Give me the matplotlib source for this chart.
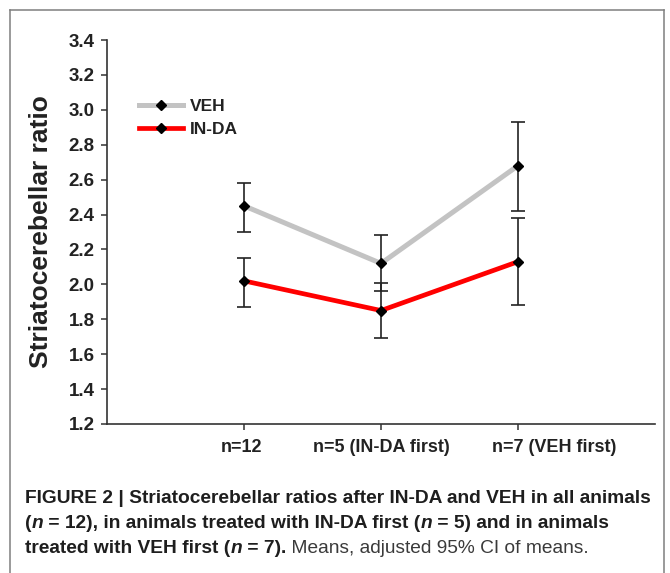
import matplotlib
matplotlib.use('Agg')
import matplotlib.pyplot as plt
from matplotlib.lines import Line2D
from matplotlib import font_manager

# ── Data ──────────────────────────────────────────────────
groups = ['n=12', 'n=5 (IN-DA first)', 'n=7 (VEH first)']
veh_mean = [2.45, 2.12, 2.68]
veh_low = [2.30, 1.96, 2.42]
veh_high = [2.58, 2.28, 2.93]
inda_mean = [2.02, 1.85, 2.13]
inda_low = [1.87, 1.69, 1.88]
inda_high = [2.15, 2.01, 2.38]
y_ticks = [1.2, 1.4, 1.6, 1.8, 2.0, 2.2, 2.4, 2.6, 2.8, 3.0, 3.2, 3.4]

names = {f.name for f in font_manager.fontManager.ttflist}
FONT = 'Liberation Sans' if 'Liberation Sans' in names else 'DejaVu Sans'
NARROW = 'Liberation Sans Narrow' if 'Liberation Sans Narrow' in names else FONT
plt.rcParams['font.family'] = FONT

fig = plt.figure(figsize=(6.7, 5.73), dpi=100)
W, H = 670, 573

# frame around the panel
frame_c = '#7f7f7f'
fig.add_artist(Line2D([10 / W, 10 / W], [0, 1 - 10 / H], color=frame_c, lw=1.1))
fig.add_artist(Line2D([10 / W, 664 / W], [1 - 10 / H, 1 - 10 / H], color=frame_c, lw=1.1))
fig.add_artist(Line2D([664 / W, 664 / W], [0, 1 - 10 / H], color=frame_c, lw=1.1))

ax = fig.add_axes([107 / W, 1 - 424 / H, (655 - 107) / W, (424 - 40) / H])
x = [1, 2, 3]


def err(mean, low, high):
    return [[m - l for m, l in zip(mean, low)], [h - m for m, h in zip(mean, high)]]


ax.errorbar(x, veh_mean, yerr=err(veh_mean, veh_low, veh_high), fmt='none',
            ecolor='#222222', elinewidth=1.2, capsize=4.7, capthick=1.2, zorder=2)
ax.errorbar(x, inda_mean, yerr=err(inda_mean, inda_low, inda_high), fmt='none',
            ecolor='#222222', elinewidth=1.2, capsize=4.7, capthick=1.2, zorder=2)
ax.plot(x, veh_mean, color='#c3c3c3', lw=3.6, marker='D', markersize=5.5,
        markerfacecolor='black', markeredgecolor='black', label='VEH', zorder=3)
ax.plot(x, inda_mean, color='#ff0000', lw=3.4, marker='D', markersize=5.5,
        markerfacecolor='black', markeredgecolor='black', label='IN-DA', zorder=3)

ax.set_xlim(0, 4)
ax.set_ylim(1.2, 3.4)
ax.set_yticks(y_ticks)
ax.set_yticklabels([f'{v:.1f}' for v in y_ticks], fontsize=13.5, fontweight='bold', color='#222222')
ax.set_xticks(x)
ax.set_xticklabels([])
# category labels; the last one sits right of its tick in the original
label_shift = [-2, 0, 26]
for xi, lab, dx in zip(x, groups, label_shift):
    ax.annotate(lab, xy=(xi, 0), xycoords=ax.get_xaxis_transform(),
                xytext=(dx, -17), textcoords='offset points', ha='center', va='center',
                fontsize=13, fontweight='bold', color='#222222')
ax.tick_params(axis='both', direction='out', length=4, width=1.1, color='#333333')
ax.tick_params(axis='y', pad=5)
for s in ['top', 'right']:
    ax.spines[s].set_visible(False)
for s in ['left', 'bottom']:
    ax.spines[s].set_color('#333333')
    ax.spines[s].set_linewidth(1.2)
ax.set_ylabel('Striatocerebellar ratio', fontsize=19, fontweight='bold', color='#222222', labelpad=11)

leg = ax.legend(loc='upper left', bbox_to_anchor=(0.046, 0.865), frameon=False,
                prop={'weight': 'bold', 'size': 12.5}, handlelength=2.5,
                handletextpad=0.4, labelspacing=0.45, borderaxespad=0)
for t in leg.get_texts():
    t.set_color('#222222')

# ── Caption with mixed styles ────────────────────────────
renderer = fig.canvas.get_renderer()
cap_color = '#1e1e1e'


def adv(txt, size, weight, style):
    def w(s):
        t = fig.text(0, 0, s, fontsize=size, fontweight=weight, fontstyle=style, family=NARROW)
        bb = t.get_window_extent(renderer)
        t.remove()
        return bb.width
    return w('|' + txt + '|') - w('||')


line1 = 'FIGURE 2 | Striatocerebellar ratios after IN-DA and VEH in all animals'
cap_size = 12 * (648 - 25) / adv(line1, 12, 'bold', 'normal')

B, BI, N = ('bold', 'normal'), ('bold', 'italic'), ('normal', 'normal')
lines = [
    (503, [(line1, B)]),
    (528, [('(', B), ('n', BI), (' = 12), in animals treated with IN-DA first (', B),
           ('n', BI), (' = 5) and in animals', B)]),
    (553, [('treated with VEH first (', B), ('n', BI), (' = 7)', B), ('.', B),
           (' Means, adjusted 95% CI of means.', N)]),
]
for ypix, runs in lines:
    xp = 25
    for txt, (wt, st) in runs:
        fig.text(xp / W, 1 - ypix / H, txt, fontsize=cap_size, fontweight=wt, fontstyle=st,
                 family=NARROW, color=cap_color if wt == 'bold' else '#3a3a3a',
                 ha='left', va='baseline')
        xp += adv(txt, cap_size, wt, st)

fig.savefig('out.png', dpi=100)
